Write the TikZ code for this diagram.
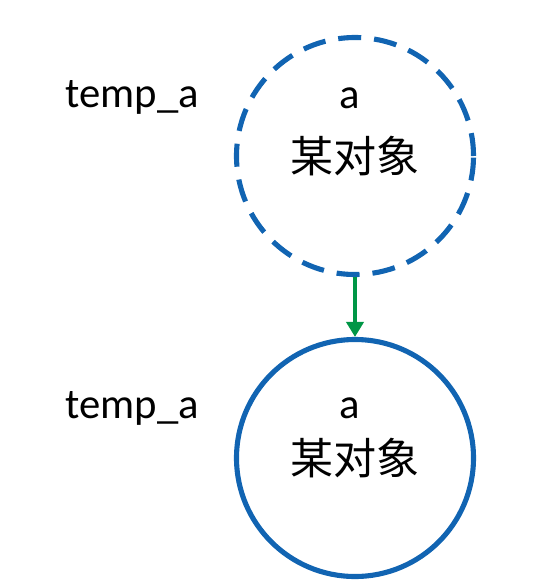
\documentclass[tikz,border=0pt]{standalone}
\usepackage{fontspec}
\setmainfont{Carlito}
\newfontfamily\cjk{Noto Sans CJK SC}
\usetikzlibrary{arrows.meta,positioning}

\begin{document}
\begin{tikzpicture}[>=Stealth,
    obj/.style={circle, draw=colorO, line width=2.9pt, minimum size=4.74cm, inner sep=0pt},
    lbl/.style={font=\fontsize{24.3}{29}\selectfont},
    cn/.style={font=\fontsize{24.5}{30}\selectfont\cjk},
    flow/.style={draw=colorF, line width=2.2pt, -{Triangle[width=0.34cm, length=0.3cm]}}]
    % Màu sắc
    \definecolor{colorO}{RGB}{17, 100, 178} % viền đối tượng
    \definecolor{colorF}{RGB}{0, 150, 70}   % mũi tên

    \useasboundingbox (0,0) rectangle (10.94,-11.6);

    % 1. Đối tượng tạm (nét đứt)
    \node[obj, dash pattern=on 0.46cm off 0.26cm] (objtop) at (7.10,-3.12) {};
    \node[cn] (cntop) at (objtop.center) {某对象};
    \node[lbl] (atop) at ([xshift=-0.1cm, yshift=1.16cm]objtop.center) {a};
    \node[lbl, anchor=base west, inner sep=0pt] (tmptop) at (1.30,-2.14) {temp\_a};

    % 2. Đối tượng thật
    \node[obj] (objbot) at (7.10,-9.16) {};
    \node[cn] (cnbot) at (objbot.center) {某对象};
    \node[lbl] (abot) at ([xshift=-0.1cm, yshift=0.99cm]objbot.center) {a};
    \node[lbl, anchor=base west, inner sep=0pt] (tmpbot) at (1.30,-8.36) {temp\_a};

    % 3. Mũi tên
    \draw[flow] (objtop) -- (objbot);

\end{tikzpicture}
\end{document}
